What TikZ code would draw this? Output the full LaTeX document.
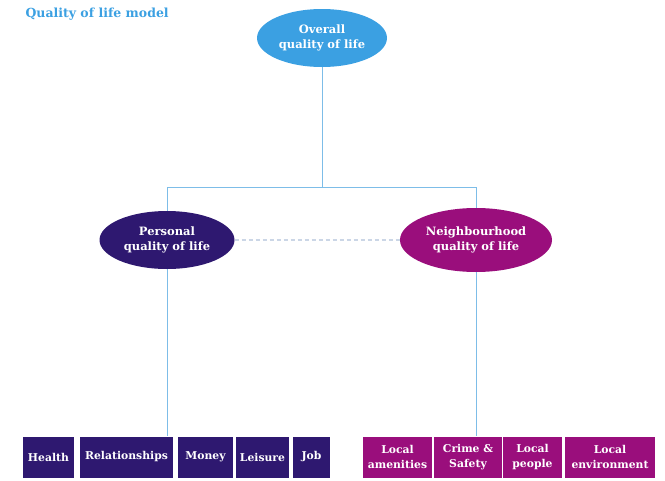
\documentclass[tikz,border=0pt]{standalone}
\usepackage{fontspec}
\setmainfont{DejaVu Serif}
\usetikzlibrary{shapes.geometric}
\definecolor{lblue}{HTML}{3BA0E2}
\definecolor{linecol}{HTML}{7DBDE8}
\definecolor{indigo}{HTML}{2E1870}
\definecolor{magen}{HTML}{9A0E7C}
\definecolor{dashcol}{HTML}{CBD6E6}
\begin{document}
\begin{tikzpicture}[x=1pt,y=-1pt,
  oval/.style={ellipse,inner sep=0pt,text=white,font=\fontsize{11.5}{15.5}\selectfont\bfseries,align=center},
  cat/.style={rectangle,inner sep=0pt,minimum height=41pt,text=white,font=\fontsize{10.8}{15.5}\selectfont\bfseries,align=center},
  pbox/.style={cat,fill=indigo},
  nbox/.style={cat,fill=magen},
  conn/.style={draw=linecol,line width=0.9pt}]
\useasboundingbox (0,0) rectangle (665,480);
\node[anchor=west,text=lblue,font=\fontsize{12.5}{14}\selectfont\bfseries] (title) at (22,14) {Quality of life model};
\node[oval,fill=lblue,minimum width=130pt,minimum height=58pt] (top) at (322,38) {Overall\\quality of life};
\node[oval,fill=indigo,minimum width=135pt,minimum height=58pt] (pers) at (167,240) {Personal\\quality of life};
\node[oval,fill=magen,minimum width=152pt,minimum height=64pt] (neigh) at (476,240) {Neighbourhood\\quality of life};
\coordinate (j) at (322,187);
% boxes
\node[pbox,minimum width=51pt] (health) at (48.5,457) {Health};
\node[pbox,minimum width=93pt] (rel) at (126.5,457) {Relationships};
\node[pbox,minimum width=55pt] (money) at (205.5,457) {Money};
\node[pbox,minimum width=53pt] (leis) at (262.5,457) {Leisure};
\node[pbox,minimum width=37pt] (job) at (311.5,457) {Job};
\node[nbox,minimum width=69pt] (amen) at (397.5,457) {Local\\amenities};
\node[nbox,minimum width=68pt] (crime) at (468,457) {Crime \&\\Safety};
\node[nbox,minimum width=59pt] (people) at (532.5,457) {Local\\people};
\node[nbox,minimum width=90pt] (env) at (610,457) {Local\\environment};
% connectors
\draw[conn] (top.south) -- (j);
\draw[conn] (pers.north) |- (j);
\draw[conn] (neigh.north) |- (j);
\draw[conn] (pers.south) -- (pers.south |- rel.north);
\draw[conn] (neigh.south) -- (neigh.south |- crime.north);
\draw[draw=dashcol,line width=1.2pt,dash pattern=on 4pt off 3pt] (pers.east) -- (neigh.west);
\end{tikzpicture}
\end{document}
